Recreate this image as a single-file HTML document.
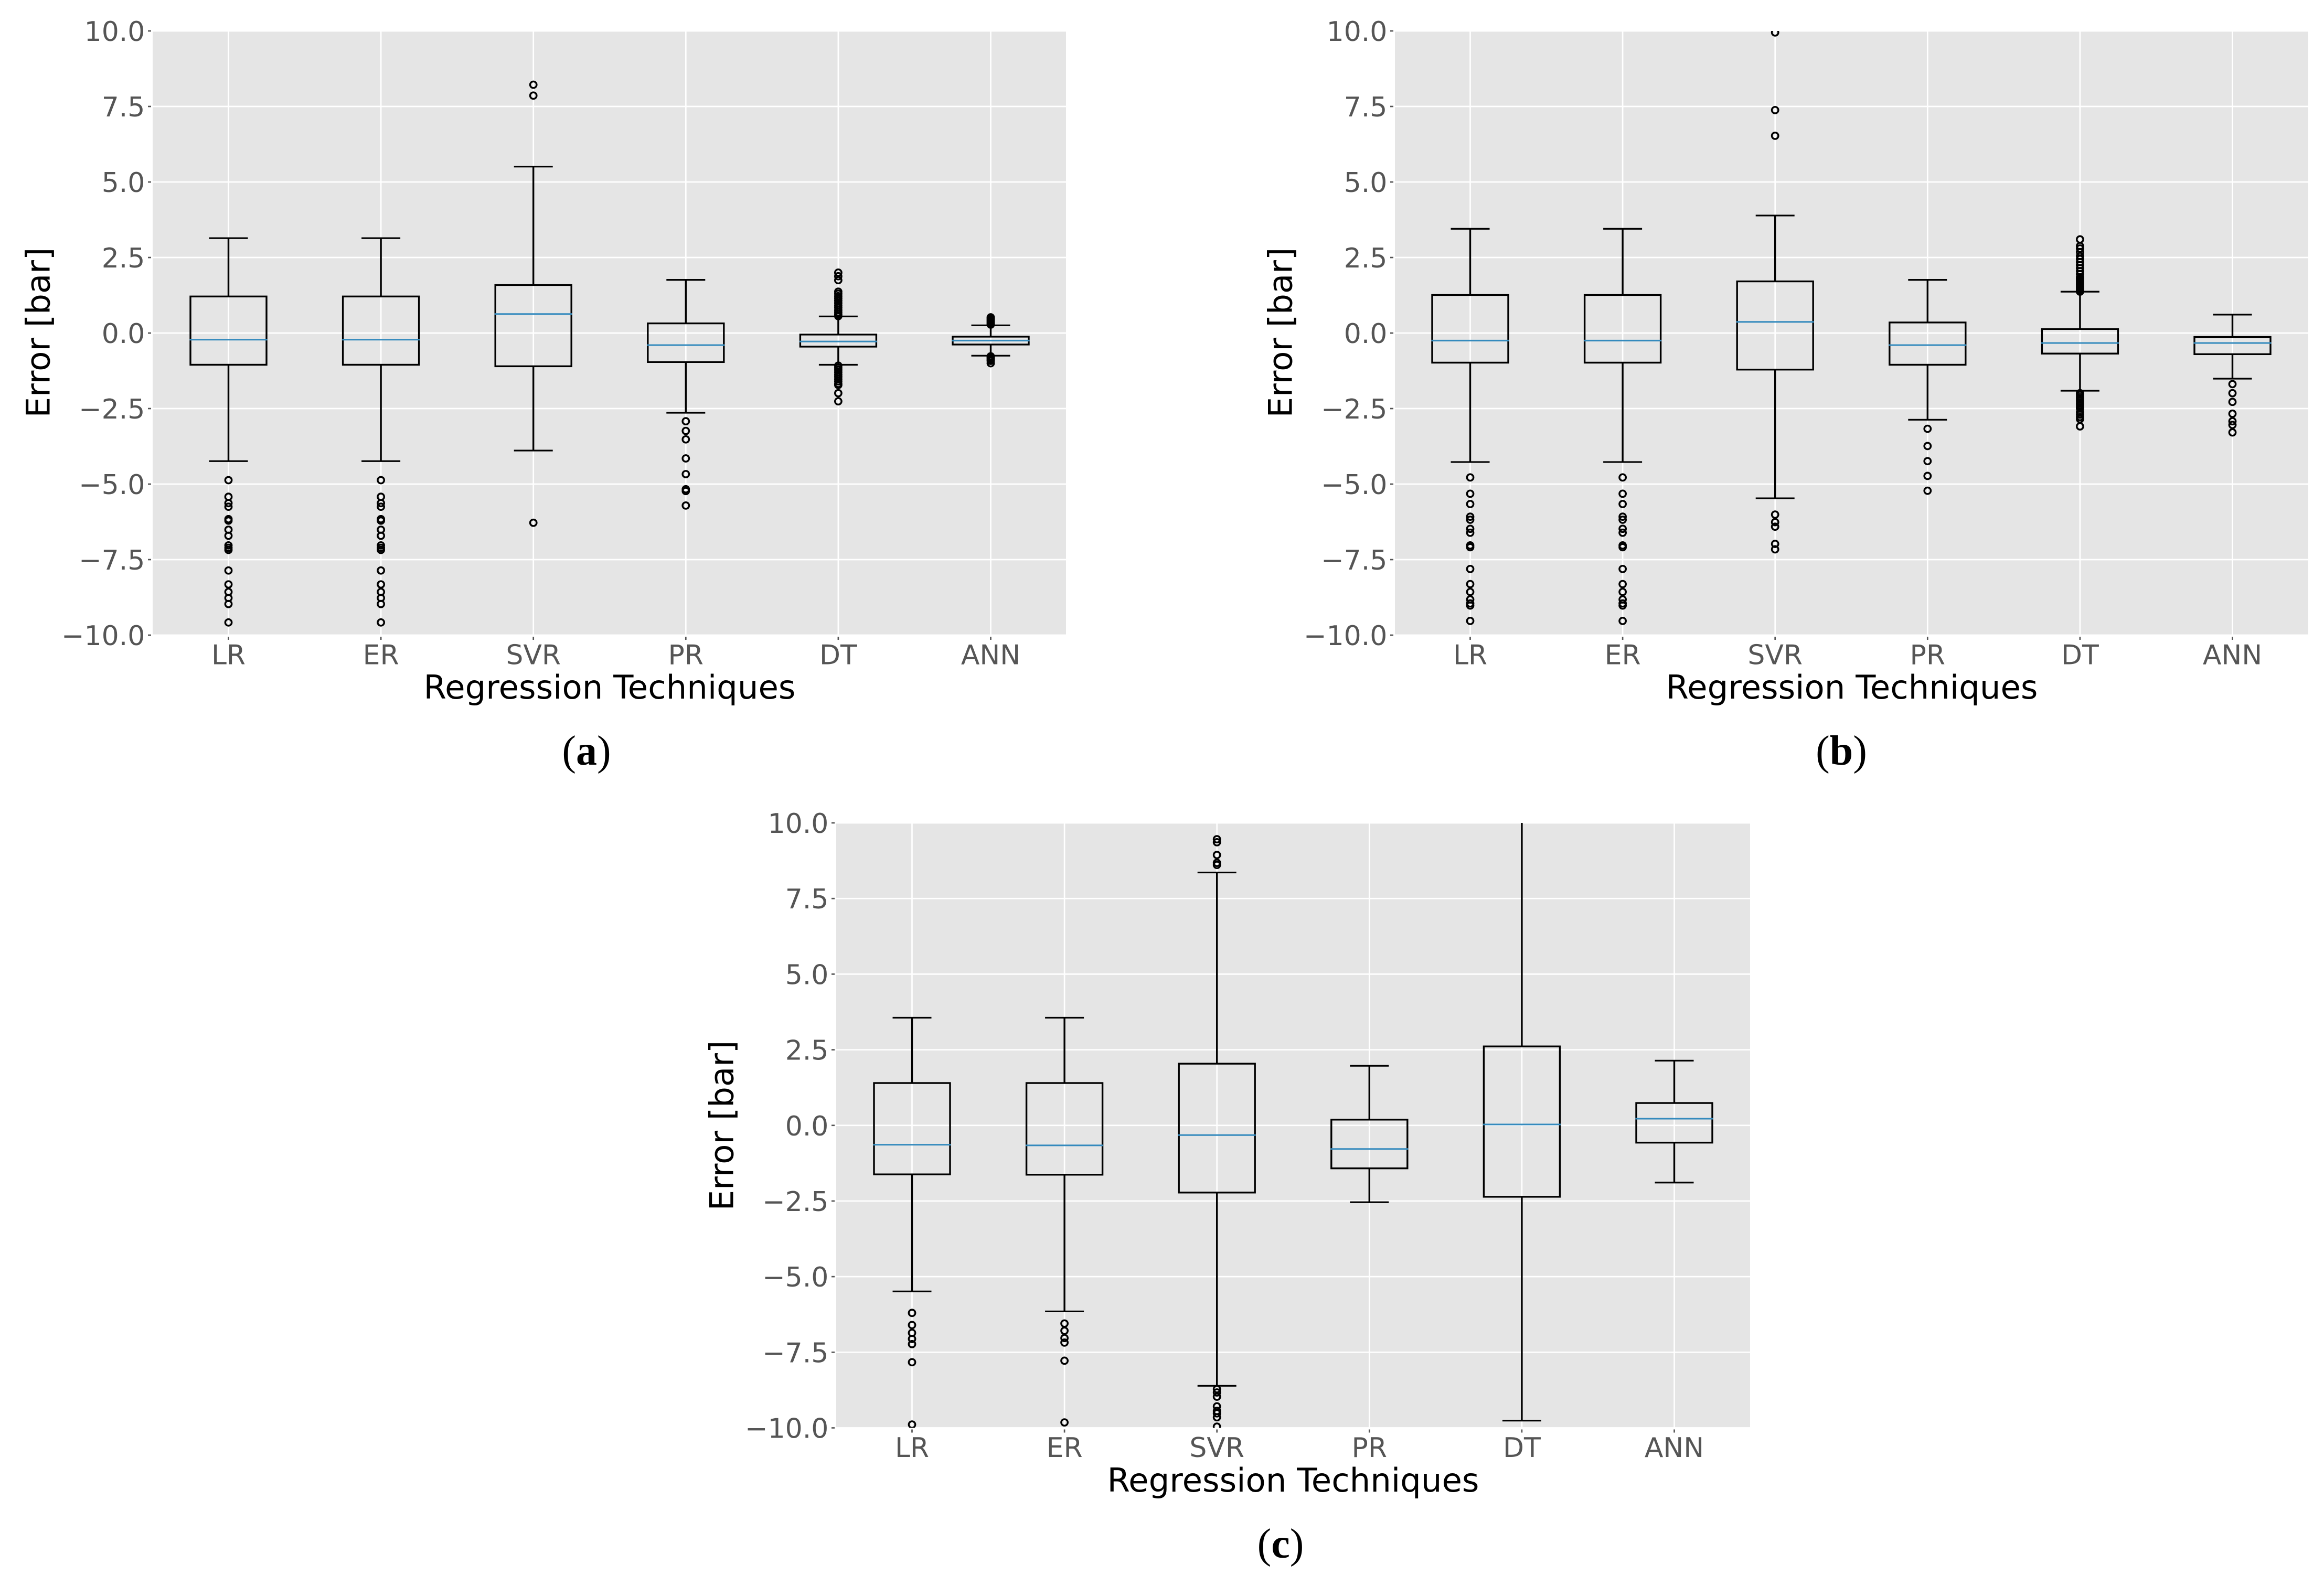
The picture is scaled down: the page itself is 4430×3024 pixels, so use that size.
<!DOCTYPE html>
<html lang="en">
<head>
<meta charset="utf-8">
<title>Regression technique error box plots</title>
<style>
html,body{margin:0;padding:0;background:#fff;}
svg{display:block;}
.tick-label{font-family:"DejaVu Sans",sans-serif;font-size:52px;fill:#555555;}
.axis-title{font-family:"DejaVu Sans",sans-serif;font-size:62.5px;fill:#000;}
.caption{font-family:"Liberation Serif",serif;font-size:80px;fill:#000;text-anchor:middle;}
</style>
</head>
<body>
<svg id="figure" xmlns="http://www.w3.org/2000/svg" width="4430" height="3024" viewBox="0 0 4430 3024">
  <rect x="0" y="0" width="4430" height="3024" fill="#ffffff"/>
  <defs>
    <clipPath id="clip-a"><rect x="291" y="59" width="1741" height="1152"/></clipPath>
    <clipPath id="clip-b"><rect x="2659" y="59" width="1741" height="1152"/></clipPath>
    <clipPath id="clip-c"><rect x="1594" y="1569" width="1742" height="1153.5"/></clipPath>
  </defs>

  <g id="panel-a">
    <rect x="291" y="59" width="1741" height="1152" fill="#E5E5E5"/>
    <text class="axis-title" text-anchor="middle" transform="translate(94.5 634) rotate(-90)">Error [bar]</text>
    <text class="axis-title" text-anchor="middle" x="1162" y="1332">Regression Techniques</text>
    <text class="caption" x="1118" y="1458">(<tspan font-weight="bold">a</tspan>)</text>
  </g>

  <g id="panel-b">
    <rect x="2659" y="59" width="1741" height="1152" fill="#E5E5E5"/>
    <text class="axis-title" text-anchor="middle" transform="translate(2462.5 634) rotate(-90)">Error [bar]</text>
    <text class="axis-title" text-anchor="middle" x="3530" y="1332">Regression Techniques</text>
    <text class="caption" x="3510" y="1458">(<tspan font-weight="bold">b</tspan>)</text>
  </g>

  <g id="panel-c">
    <rect x="1594" y="1569" width="1742" height="1153.5" fill="#E5E5E5"/>
    <text class="axis-title" text-anchor="middle" transform="translate(1397.5 2146) rotate(-90)">Error [bar]</text>
    <text class="axis-title" text-anchor="middle" x="2465" y="2844">Regression Techniques</text>
    <text class="caption" x="2441" y="2970">(<tspan font-weight="bold">c</tspan>)</text>
  </g>
</svg>

<script>
// Shared axis content
const categories = ["LR", "ER", "SVR", "PR", "DT", "ANN"];
const yTickValues = [10, 7.5, 5, 2.5, 0, -2.5, -5, -7.5, -10];
const yTickLabels = ["10.0", "7.5", "5.0", "2.5", "0.0", "\u22122.5", "\u22125.0", "\u22127.5", "\u221210.0"];

// Panel (a)
const panelAWhiskerHigh = [3.14, 3.14, 5.51, 1.76, 0.55, 0.255];
const panelAQ3 = [1.21, 1.21, 1.59, 0.32, -0.05, -0.12];
const panelAMedian = [-0.22, -0.22, 0.63, -0.40, -0.28, -0.25];
const panelAQ1 = [-1.05, -1.05, -1.10, -0.96, -0.45, -0.38];
const panelAWhiskerLow = [-4.24, -4.24, -3.89, -2.64, -1.05, -0.75];
const panelAFliers = [
  [-4.87, -5.42, -5.63, -5.75, -6.16, -6.21, -6.51, -6.71, -7.03, -7.11, -7.18, -7.86, -8.32, -8.57, -8.77, -8.97, -9.58],
  [-4.87, -5.42, -5.63, -5.75, -6.16, -6.21, -6.51, -6.71, -7.03, -7.11, -7.18, -7.86, -8.32, -8.57, -8.77, -8.97, -9.58],
  [8.22, 7.86, -6.28],
  [-2.92, -3.24, -3.52, -4.15, -4.67, -5.17, -5.23, -5.71],
  [2.0, 1.88, 1.75, 1.37, 1.3, 1.22, 1.15, 1.07, 0.99, 0.91, 0.84, 0.76, 0.69, 0.62, 0.56,
   -1.08, -1.15, -1.22, -1.3, -1.38, -1.45, -1.53, -1.6, -1.68, -1.72, -1.99, -2.26],
  [0.52, 0.48, 0.44, 0.4, 0.36, 0.32, 0.28, -0.77, -0.8, -0.84, -0.88, -0.92, -1.0]
];

// Panel (b)
const panelBWhiskerHigh = [3.45, 3.45, 3.89, 1.76, 1.37, 0.61];
const panelBQ3 = [1.26, 1.26, 1.71, 0.35, 0.133, -0.13];
const panelBMedian = [-0.25, -0.25, 0.37, -0.40, -0.33, -0.33];
const panelBQ1 = [-0.98, -0.98, -1.21, -1.05, -0.68, -0.70];
const panelBWhiskerLow = [-4.27, -4.27, -5.47, -2.87, -1.91, -1.51];
const panelBFliers = [
  [-4.78, -5.32, -5.66, -6.08, -6.18, -6.48, -6.61, -7.03, -7.09, -7.81, -8.31, -8.57, -8.82, -8.95, -9.02, -9.53],
  [-4.78, -5.32, -5.66, -6.08, -6.18, -6.48, -6.61, -7.03, -7.09, -7.81, -8.31, -8.57, -8.82, -8.95, -9.02, -9.53],
  [9.95, 7.38, 6.53, -6.01, -6.26, -6.41, -6.98, -7.16],
  [-3.17, -3.74, -4.24, -4.73, -5.22],
  [3.10, 2.88, 2.8, 2.68, 2.55, 2.45, 2.35, 2.25, 2.15, 2.05, 1.95, 1.85, 1.8, 1.75, 1.7, 1.65, 1.6, 1.55, 1.5, 1.45, 1.4, 1.37,
   -1.99, -2.05, -2.12, -2.18, -2.25, -2.32, -2.38, -2.45, -2.5, -2.62, -2.7, -2.78, -2.85, -3.09],
  [-1.69, -1.99, -2.28, -2.67, -2.92, -3.04, -3.29]
];

// Panel (c)
const panelCWhiskerHigh = [3.56, 3.56, 8.36, 1.97, 12, 2.14];
const panelCQ3 = [1.40, 1.40, 2.04, 0.19, 2.61, 0.74];
const panelCMedian = [-0.64, -0.66, -0.32, -0.78, 0.03, 0.22];
const panelCQ1 = [-1.62, -1.63, -2.22, -1.42, -2.36, -0.57];
const panelCWhiskerLow = [-5.49, -6.15, -8.61, -2.54, -9.76, -1.89];
const panelCFliers = [
  [-6.20, -6.60, -6.86, -7.06, -7.23, -7.83, -9.89],
  [-6.55, -6.79, -7.03, -7.18, -7.78, -9.82],
  [9.46, 9.36, 8.94, 8.68, 8.61, -8.72, -8.83, -8.97, -9.29, -9.44, -9.52, -9.65, -9.96],
  [],
  [],
  []
];

const SVG_NS = "http://www.w3.org/2000/svg";
const panels = [
  { id: "a", left: 291, top: 59, width: 1741, height: 1152, firstX: 435.5, hi: panelAWhiskerHigh, q3: panelAQ3, med: panelAMedian, q1: panelAQ1, lo: panelAWhiskerLow, fliers: panelAFliers },
  { id: "b", left: 2659, top: 59, width: 1741, height: 1152, firstX: 2802.5, hi: panelBWhiskerHigh, q3: panelBQ3, med: panelBMedian, q1: panelBQ1, lo: panelBWhiskerLow, fliers: panelBFliers },
  { id: "c", left: 1594, top: 1569, width: 1742, height: 1153.5, firstX: 1738.5, hi: panelCWhiskerHigh, q3: panelCQ3, med: panelCMedian, q1: panelCQ1, lo: panelCWhiskerLow, fliers: panelCFliers }
];
const CATEGORY_STEP = 290.6;
const BOX_HALF = 72.5;
const CAP_HALF = 37;

function make(parent, tag, attrs) {
  const el = document.createElementNS(SVG_NS, tag);
  for (const key in attrs) el.setAttribute(key, attrs[key]);
  parent.appendChild(el);
  return el;
}
function xScale(p, i) { return p.firstX + i * CATEGORY_STEP; }
function yScale(p, v) { return p.top + (10 - v) / 20 * p.height; }
function lineAttrs(x1, y1, x2, y2, color, width) {
  return { x1: x1, y1: y1, x2: x2, y2: y2, stroke: color, "stroke-width": width };
}

panels.forEach(function (p) {
  const root = document.getElementById("panel-" + p.id);
  const bottom = p.top + p.height;
  const right = p.left + p.width;

  const grid = make(root, "g", {});
  
  
  const axes = make(root, "g", {});
  
  

  yTickValues.forEach(function (v, t) {
    const y = yScale(p, v);
    const gridLine = make(grid, "line", lineAttrs(p.left, y, right, y, "#ffffff", 2.7));
    
    
    const tick = make(axes, "line", lineAttrs(p.left - 9, y, p.left - 3, y, "#555555", 2.7));
    
    
    const label = make(axes, "text", { x: p.left - 14.6, y: y + 19, "text-anchor": "end", "class": "tick-label" });
    
    
    label.textContent = yTickLabels[t];
  });

  categories.forEach(function (name, i) {
    const x = xScale(p, i);
    const gridLine = make(grid, "line", lineAttrs(x, p.top, x, bottom, "#ffffff", 2.7));
    
    
    const tick = make(axes, "line", lineAttrs(x, bottom + 3, x, bottom + 9, "#555555", 2.7));
    
    
    const label = make(axes, "text", { x: x, y: bottom + 55.5, "text-anchor": "middle", "class": "tick-label" });
    
    
    label.textContent = name;
  });

  const marks = make(root, "g", { "clip-path": "url(#clip-" + p.id + ")" });
  
  

  categories.forEach(function (name, i) {
    const x = xScale(p, i);
    const box = make(marks, "g", {});
    
    

    const yHi = yScale(p, p.hi[i]);
    const yQ3 = yScale(p, p.q3[i]);
    const yMed = yScale(p, p.med[i]);
    const yQ1 = yScale(p, p.q1[i]);
    const yLo = yScale(p, p.lo[i]);

    const whiskerHigh = make(box, "line", lineAttrs(x, yHi, x, yQ3, "#000", 3.4));
    
    
    const whiskerLow = make(box, "line", lineAttrs(x, yQ1, x, yLo, "#000", 3.4));
    
    
    const capHigh = make(box, "line", lineAttrs(x - CAP_HALF, yHi, x + CAP_HALF, yHi, "#000", 3.2));
    
    
    const capLow = make(box, "line", lineAttrs(x - CAP_HALF, yLo, x + CAP_HALF, yLo, "#000", 3.2));
    
    

    const rect = make(box, "rect", { x: x - BOX_HALF, y: yQ3, width: BOX_HALF * 2, height: yQ1 - yQ3, fill: "none", stroke: "#000", "stroke-width": 3.4 });
    
    

    const median = make(box, "line", lineAttrs(x - BOX_HALF - 1.5, yMed, x + BOX_HALF + 1.5, yMed, "#348ABD", 3));
    
    

    p.fliers[i].forEach(function (v) {
      const flier = make(box, "circle", { cx: x, cy: yScale(p, v), r: 6.2, fill: "none", stroke: "#000", "stroke-width": 3.4 });
      
      
    });
  });
});
</script>
</body>
</html>
